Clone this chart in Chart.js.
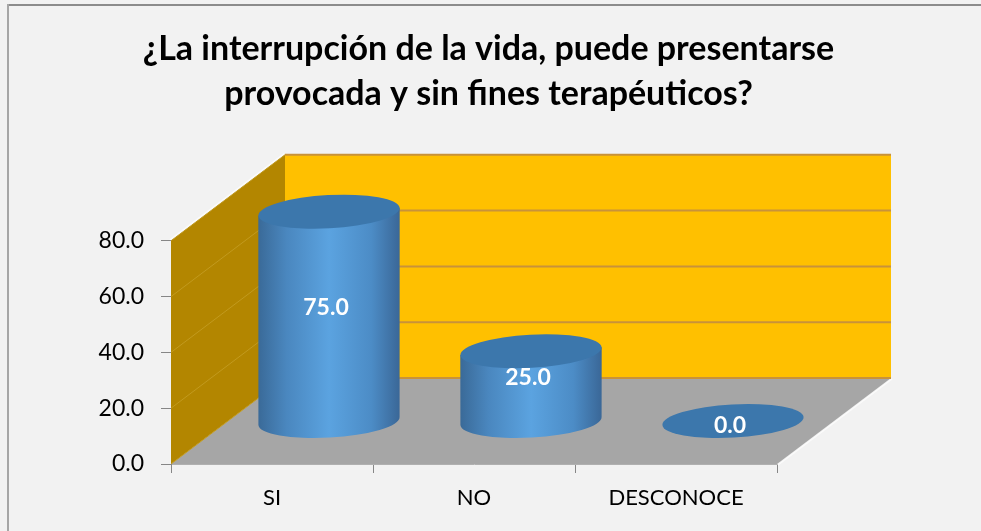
<!DOCTYPE html>
<html>
<head>
<meta charset="utf-8">
<title>Chart</title>
<script src="https://cdn.jsdelivr.net/npm/chart.js@4"></script>
<style>
    html, body { margin: 0; padding: 0; background: #f2f2f2; }
    #wrap { position: absolute; left: 0; top: 0; width: 981px; height: 531px; }
</style>
</head>
<body>
<div id="wrap"><canvas id="chart"></canvas></div>
<script>
const categories = ['SI', 'NO', 'DESCONOCE'];
const seriesValues = [75.0, 25.0, 0.0];
const yTicks = [0, 20, 40, 60, 80];
const titleLines = ['¿La interrupción de la vida, puede presentarse', 'provocada y sin fines terapéuticos?'];

const DEPTH_X = 114;
const DEPTH_Y = 86;

function poly(ctx, pts, fill) {
    ctx.beginPath();
    pts.forEach((p, i) => i ? ctx.lineTo(p[0], p[1]) : ctx.moveTo(p[0], p[1]));
    ctx.closePath();
    ctx.fillStyle = fill;
    ctx.fill();
}

// back wall, side wall and floor behind the bars
const roomPlugin = {
    id: 'room',
    beforeDatasetsDraw(chart) {
        const { ctx, scales: { x, y } } = chart;
        const l = x.left, r = x.right, b = y.getPixelForValue(0), t = y.getPixelForValue(yTicks[yTicks.length - 1]);
        ctx.save();
        poly(ctx, [[l + DEPTH_X, t - DEPTH_Y], [r + DEPTH_X, t - DEPTH_Y], [r + DEPTH_X, b - DEPTH_Y], [l + DEPTH_X, b - DEPTH_Y]], '#ffc000');
        poly(ctx, [[l, t], [l + DEPTH_X, t - DEPTH_Y], [l + DEPTH_X, b - DEPTH_Y], [l, b]], '#b38600');
        poly(ctx, [[l, b], [l + DEPTH_X, b - DEPTH_Y], [r + DEPTH_X, b - DEPTH_Y], [r, b]], '#a6a6a6');
        yTicks.forEach(v => {
            const py = y.getPixelForValue(v);
            ctx.strokeStyle = '#c29a1e';
            ctx.lineWidth = 1;
            ctx.beginPath();
            ctx.moveTo(l, py);
            ctx.lineTo(l + DEPTH_X, py - DEPTH_Y);
            ctx.stroke();
            ctx.strokeStyle = '#c8923a';
            ctx.lineWidth = 2;
            ctx.beginPath();
            ctx.moveTo(l + DEPTH_X, py - DEPTH_Y);
            ctx.lineTo(r + DEPTH_X, py - DEPTH_Y);
            ctx.stroke();
        });
        // pale edge along the diagonals
        ctx.strokeStyle = '#fbfbfb';
        ctx.lineWidth = 1.5;
        ctx.beginPath();
        ctx.moveTo(l - 1, t - 1);
        ctx.lineTo(l + DEPTH_X - 1, t - DEPTH_Y - 1);
        ctx.moveTo(r + 1, b + 1);
        ctx.lineTo(r + DEPTH_X + 1, b - DEPTH_Y + 1);
        ctx.stroke();
        ctx.restore();
    },
    // cylinders sit halfway into the room, sized from the bar elements
    afterDatasetsDraw(chart) {
        const { ctx, scales: { y } } = chart;
        const meta = chart.getDatasetMeta(0);
        const base = y.getPixelForValue(0);
        const tilt = -0.055;
        ctx.save();
        meta.data.forEach((bar, i) => {
            const cx = bar.x + DEPTH_X / 2;
            const rx = bar.width / 2;
            const ry = rx * 0.235;
            const yBottom = base - DEPTH_Y / 2;
            const yTop = bar.y - DEPTH_Y / 2;
            if (seriesValues[i] > 0) {
                const grad = ctx.createLinearGradient(cx - rx, 0, cx + rx, 0);
                grad.addColorStop(0, '#3a6a98');
                grad.addColorStop(0.2, '#4a87bf');
                grad.addColorStop(0.5, '#5ba3e0');
                grad.addColorStop(0.8, '#4c8cc6');
                grad.addColorStop(1, '#3a6797');
                ctx.beginPath();
                ctx.ellipse(cx, yBottom, rx, ry, tilt, 0, Math.PI);
                ctx.lineTo(cx - rx, yTop + rx * Math.sin(-tilt));
                ctx.lineTo(cx + rx, yTop - rx * Math.sin(-tilt));
                ctx.closePath();
                ctx.fillStyle = grad;
                ctx.fill();
            }
            ctx.beginPath();
            ctx.ellipse(cx, yTop, rx, ry, tilt, 0, Math.PI * 2);
            ctx.fillStyle = '#3c77ac';
            ctx.fill();

            ctx.fillStyle = '#fff';
            ctx.font = 'bold 23px Lato';
            ctx.textAlign = 'center';
            ctx.textBaseline = 'middle';
            const mid = (yTop + yBottom) / 2;
            ctx.fillText(seriesValues[i].toFixed(1), cx - 3, seriesValues[i] > 0 ? mid - 9 : mid + 5);
        });
        ctx.restore();
    }
};

new Chart(document.getElementById('chart'), {
    type: 'bar',
    data: {
        labels: categories,
        datasets: [{
            data: seriesValues,
            backgroundColor: 'rgba(0,0,0,0)',
            barPercentage: 0.7,
            categoryPercentage: 1
        }]
    },
    options: {
        responsive: true,
        maintainAspectRatio: false,
        animation: false,
        layout: { padding: { left: 0, right: 4, top: 0, bottom: 0 } },
        plugins: {
            legend: { display: false },
            tooltip: { enabled: false },
            title: {
                display: true,
                text: titleLines,
                color: '#000',
                font: { family: 'Lato', size: 34, weight: 'bold', lineHeight: 1.32 },
                padding: { top: 27, bottom: 124 }
            }
        },
        scales: {
            x: {
                grid: { drawOnChartArea: false, color: '#868686', tickLength: 9, offset: true },
                border: { color: '#b0b0b0' },
                ticks: { color: '#000', font: { family: 'Lato', size: 22 }, padding: 12, maxRotation: 0 },
                afterFit(s) { s.height = 67; }
            },
            y: {
                min: 0,
                max: 80,
                afterBuildTicks(s) { s.ticks = yTicks.map(v => ({ value: v })); },
                grid: { drawOnChartArea: false, color: '#868686', tickLength: 10 },
                border: { color: '#868686' },
                ticks: { color: '#000', font: { family: 'Lato', size: 23 }, padding: 17, callback: v => v.toFixed(1) },
                afterFit(s) { s.width = 171; }
            },
            // empty axis that keeps the room for the back wall on the right
            roomRight: {
                type: 'linear',
                position: 'right',
                grid: { display: false },
                border: { display: false },
                ticks: { display: false },
                afterFit(s) { s.width = 200; }
            }
        }
    },
    plugins: [
        { id: 'paper', beforeDraw(chart) {
            const { ctx, width, height } = chart;
            ctx.save();
            ctx.fillStyle = '#f2f2f2';
            ctx.fillRect(0, 0, width, height);
            ctx.fillStyle = '#8c8c8c';
            ctx.fillRect(7, 4, width - 7, 2);
            ctx.fillStyle = '#a6a6a6';
            ctx.fillRect(7, 4, 2, height - 4);
            ctx.restore();
        } },
        roomPlugin
    ]
});
</script>
</body>
</html>
